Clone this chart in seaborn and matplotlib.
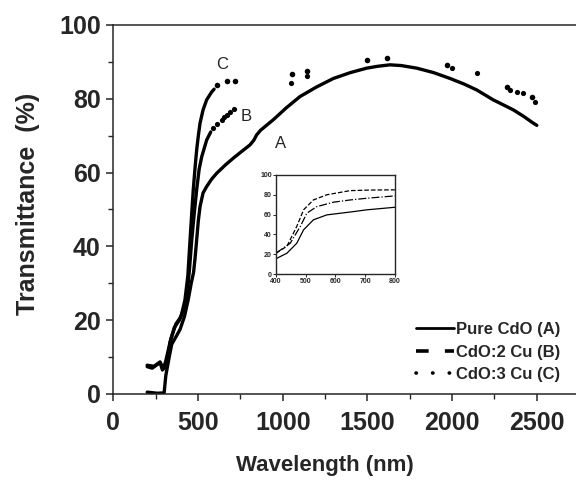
import matplotlib
matplotlib.use("Agg")
import matplotlib.pyplot as plt
import seaborn as sns
import pandas as pd
from matplotlib.lines import Line2D
from matplotlib.ticker import MultipleLocator

# --- data ---
# Pure CdO (A)
a_wl = [200, 260, 300, 310, 330, 345, 370, 394, 420, 442, 460, 474, 483, 492, 502,
        512, 530, 551, 580, 610, 660, 708, 760, 807, 830, 846, 870, 944, 1020, 1102,
        1200, 1299, 1400, 1496, 1560, 1633, 1700, 1791, 1890, 1988, 2070, 2145, 2243,
        2300, 2361, 2420, 2479, 2500]
a_tr = [0.5, 0.2, 0.3, 5, 10, 13.5, 15.5, 17.5, 21, 25.5, 30, 33, 37, 41.7, 47,
        50.8, 54.5, 56.2, 58.2, 59.8, 62, 63.9, 65.8, 67.5, 68.8, 70.2, 71.5, 74.3, 77.5, 80.6,
        83.2, 85.5, 87.1, 88.3, 88.8, 89.2, 89.0, 88.3, 87.1, 85.5, 84.0, 82.4, 79.7,
        78.4, 77.0, 75.3, 73.4, 72.8]

# CdO:2 Cu (B)
b_wl = [200, 230, 260, 276, 290, 300, 316, 335, 360, 390, 415, 433, 450, 463, 478,
        492, 507, 522, 551, 575]
b_tr = [7.4, 7.0, 8.0, 8.5, 6.5, 7.0, 7.4, 14, 18, 20, 23, 25.5, 34, 41.7, 49,
        55.3, 61, 64.3, 68.8, 71]
b_dot_wl = [591, 615, 640, 655, 669, 690, 710, 1047, 1142, 1998, 2145, 2342, 2381, 2420, 2489]
b_dot_tr = [72.0, 73.2, 74.3, 75.0, 75.6, 76.4, 77.2, 84.4, 86.2, 88.3, 86.9, 82.4, 81.9, 81.7, 79.2]

# CdO:3 Cu (C)
c_wl = [200, 240, 276, 295, 310, 340, 370, 400, 423, 440, 453, 463, 472, 482, 492,
        502, 512, 530, 551, 580, 595]
c_tr = [7.8, 7.5, 8.7, 6.8, 9, 15, 19, 21, 25.5, 32, 41.7, 49, 55.3, 61, 66.1,
        70, 73.4, 77, 79.7, 81.8, 82.6]
c_dot_wl = [610, 669, 718, 1055, 1142, 1496, 1614, 1968, 2322, 2470]
c_dot_tr = [83.7, 84.9, 84.9, 86.6, 87.6, 90.5, 91.0, 89.2, 83.3, 80.6]

# inset (400-800 nm)
in_wl = [400, 437, 470, 493, 526, 571, 650, 705, 800]
in_a = [15.4, 21, 31, 44.6, 54.7, 59.7, 62.6, 64.8, 67.4]
in_wl_b = [400, 448, 482, 504, 537, 593, 650, 705, 800]
in_b = [21, 31, 48, 61.4, 68, 72.5, 74.8, 76.5, 78.9]
in_wl_c = [400, 437, 470, 493, 526, 571, 649, 720, 800]
in_c = [21, 28, 48, 64.8, 74.8, 80, 84.2, 84.8, 85]

sns.set_style("ticks")
plt.rcParams['font.family'] = ['Liberation Sans', 'DejaVu Sans']
plt.rcParams['font.weight'] = 'bold'

fig = plt.figure(figsize=(5.76, 4.83), dpi=100)
ax = fig.add_axes([0.1967, 0.1843, 0.8088, 0.764])

df_a = pd.DataFrame({'wl': a_wl, 'tr': a_tr})
df_b = pd.DataFrame({'wl': b_wl, 'tr': b_tr})
df_c = pd.DataFrame({'wl': c_wl, 'tr': c_tr})
sns.lineplot(data=df_a, x='wl', y='tr', ax=ax, color='black', lw=2.4, sort=False)
sns.lineplot(data=df_b, x='wl', y='tr', ax=ax, color='black', lw=2.4, sort=False)
sns.lineplot(data=df_c, x='wl', y='tr', ax=ax, color='black', lw=2.4, sort=False)
sns.scatterplot(x=b_dot_wl, y=b_dot_tr, ax=ax, color='black', s=14, linewidth=0)
sns.scatterplot(x=c_dot_wl, y=c_dot_tr, ax=ax, color='black', s=16, linewidth=0)

ax.set_xlim(0, 2750)
ax.set_ylim(0, 100)
ax.xaxis.set_major_locator(MultipleLocator(500))
ax.xaxis.set_minor_locator(MultipleLocator(250))
ax.yaxis.set_major_locator(MultipleLocator(20))
ax.yaxis.set_minor_locator(MultipleLocator(10))
ax.tick_params(which='major', direction='out', length=5, width=1.1, labelsize=18, pad=7)
ax.tick_params(axis='y', which='major', pad=4)
ax.tick_params(which='minor', direction='out', length=3.5, width=1.0)
for s in ['left', 'bottom', 'top']:
    ax.spines[s].set_linewidth(1.1)
ax.spines['right'].set_visible(False)

ax.set_xlabel('Wavelength (nm)', fontsize=16, fontweight='bold')
ax.set_ylabel('Transmittance  (%)', fontsize=18, fontweight='bold')
ax.xaxis.set_label_coords(0.454, -0.195)
ax.xaxis.label.set_va('center')
ax.yaxis.set_label_coords(-0.183, 0.515)
ax.yaxis.label.set_va('center')

ax.text(642, 89.2, 'C', fontsize=12, fontweight='normal', ha='center', va='center')
ax.text(783, 75.3, 'B', fontsize=12, fontweight='normal', ha='center', va='center')
ax.text(990, 68.0, 'A', fontsize=12, fontweight='normal', ha='center', va='center')

handles = [
    Line2D([], [], color='black', lw=2.0, ls='-'),
    Line2D([], [], color='black', lw=2.6, ls=(0, (3.5, 4.5))),
    Line2D([], [], color='black', lw=2.6, ls=(0, (0.1, 4.5)), dash_capstyle='round'),
]
ax.legend(handles, ['Pure CdO (A)', 'CdO:2 Cu (B)', 'CdO:3 Cu (C)'],
          loc='lower right', bbox_to_anchor=(0.985, 0.0), frameon=False,
          prop={'size': 12, 'weight': 'bold'}, handlelength=2.3,
          handletextpad=0.1, labelspacing=0.45, borderaxespad=0.3)

# inset
ins = fig.add_axes([0.479, 0.4327, 0.2066, 0.205])
sns.lineplot(x=in_wl, y=in_a, ax=ins, color='black', lw=0.9)
sns.lineplot(x=in_wl_b, y=in_b, ax=ins, color='black', lw=0.9, ls='-.')
sns.lineplot(x=in_wl_c, y=in_c, ax=ins, color='black', lw=0.9, ls='--')
ins.set_xlim(400, 800)
ins.set_ylim(0, 100)
ins.xaxis.set_major_locator(MultipleLocator(100))
ins.yaxis.set_major_locator(MultipleLocator(20))
ins.tick_params(which='major', direction='out', length=2, width=0.7, labelsize=5, pad=1)
for s in ins.spines.values():
    s.set_linewidth(1.0)

fig.savefig('out.png', dpi=100)
